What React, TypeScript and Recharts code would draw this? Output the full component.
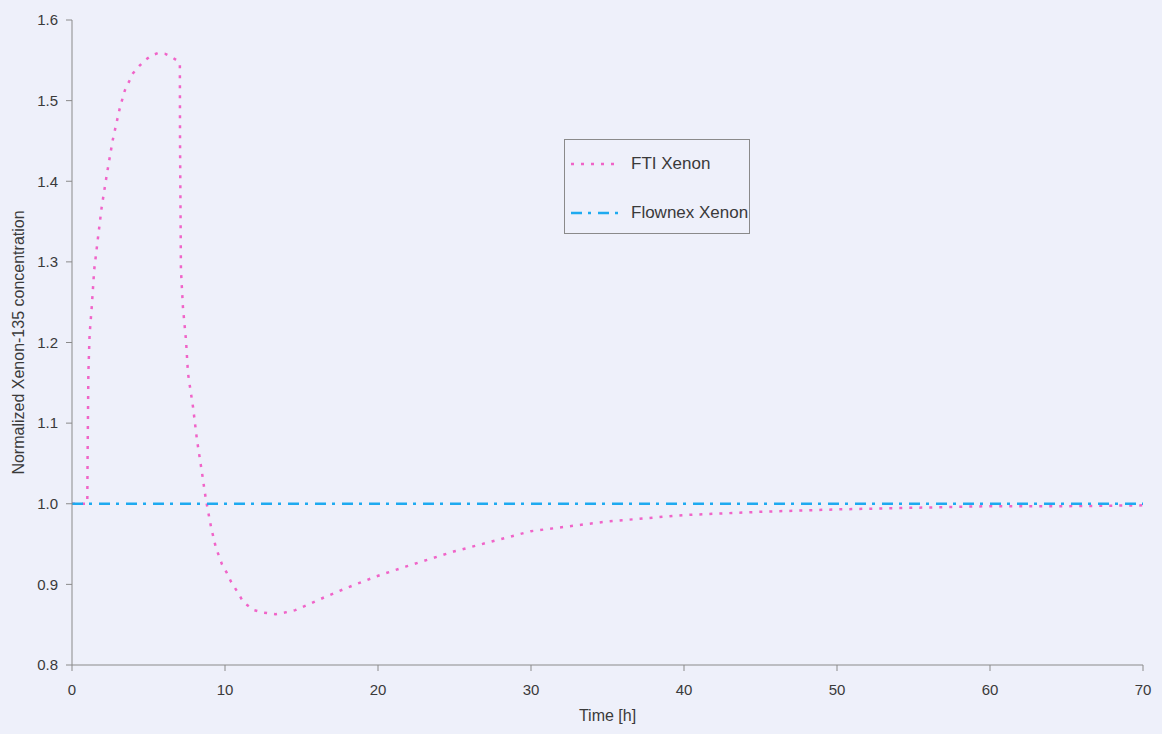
import { LineChart, Line, XAxis, YAxis, Legend } from 'recharts';

// FTI xenon transient (time in hours, concentration normalised to steady state)
const ftiTime = [
  0, 1.0, 1.02, 1.07, 1.15, 1.29, 1.45, 1.68, 1.94, 2.29, 2.66, 3.14, 3.46, 3.99, 4.4, 4.77,
  5.2, 5.62, 6.1, 6.52, 6.85, 7.05, 7.06, 7.12, 7.25, 7.45, 7.58, 7.75, 7.91, 8.17, 8.5, 8.69,
  8.85, 9.1, 9.4, 9.8, 10.1, 10.4, 10.8, 11.2, 11.9, 12.5, 13.3, 13.9, 14.6, 15.2, 16.5, 18.0,
  19.9, 21.8, 25, 30, 35, 40, 45, 50, 55, 60, 65, 70,
];
const ftiXenon = [
  1.0, 1.0, 1.06, 1.162, 1.21, 1.244, 1.29, 1.327, 1.368, 1.41, 1.451, 1.492, 1.513, 1.534, 1.543, 1.55,
  1.556, 1.559, 1.558, 1.554, 1.55, 1.546, 1.45, 1.29, 1.244, 1.203, 1.162, 1.14, 1.12, 1.079, 1.038, 1.013,
  0.995, 0.97, 0.946, 0.925, 0.915, 0.903, 0.891, 0.878, 0.868, 0.865, 0.863, 0.865, 0.868, 0.873, 0.884, 0.896,
  0.91, 0.922, 0.941, 0.966, 0.978, 0.986, 0.99, 0.993, 0.995, 0.997, 0.997, 0.998,
];

// Flownex xenon stays at the steady-state value
const flownexTime = [0, 70];
const flownexXenon = [1.0, 1.0];

const xTicks = [0, 10, 20, 30, 40, 50, 60, 70];
const yTicks = [0.8, 0.9, 1.0, 1.1, 1.2, 1.3, 1.4, 1.5, 1.6];

const ftiData = ftiTime.map((t, i) => ({ t, v: ftiXenon[i] }));
const flownexData = flownexTime.map((t, i) => ({ t, v: flownexXenon[i] }));

const BG = '#eef0fa';
const AXIS = '#8a8a8a';
const TEXT = '#3a3a3a';
const PINK = '#f064c8';
const CYAN = '#1eaaf0';
const FONT = '"Liberation Sans", Arial, sans-serif';

const legendItems = [
  { name: 'FTI Xenon', color: PINK, dash: '3 7' },
  { name: 'Flownex Xenon', color: CYAN, dash: '11 6 3 7' },
];

function LegendBox() {
  return (
    <div
      style={{
        width: 186,
        height: 95,
        border: `1px solid ${AXIS}`,
        background: BG,
        fontFamily: FONT,
        fontSize: 17,
        color: TEXT,
        boxSizing: 'border-box',
        paddingTop: 11,
      }}
    >
      {legendItems.map((item) => (
        <div key={item.name} style={{ display: 'flex', alignItems: 'center', height: 25, marginBottom: 24 }}>
          <svg width={56} height={6} style={{ marginLeft: 6, marginRight: 4 }}>
            <line x1={0} y1={3} x2={50} y2={3} stroke={item.color} strokeWidth={2.5} strokeDasharray={item.dash} />
          </svg>
          <span>{item.name}</span>
        </div>
      ))}
    </div>
  );
}

function YTitle(props: any) {
  const vb = props.viewBox;
  const x = vb.x + 18;
  const y = vb.y + vb.height / 2;
  return (
    <text
      x={x}
      y={y}
      transform={`rotate(-90 ${x} ${y})`}
      textAnchor="middle"
      dominantBaseline="central"
      fill={TEXT}
      fontSize={16}
      fontFamily={FONT}
    >
      Normalized Xenon-135 concentration
    </text>
  );
}

export default function App() {
  return (
    <div style={{ position: 'absolute', left: 0, top: 0, width: 1162, height: 734, background: BG }}>
      <LineChart width={1162} height={734} margin={{ top: 20, right: 19, left: 0, bottom: 5 }}>
        <XAxis
          dataKey="t"
          type="number"
          domain={[0, 70]}
          ticks={xTicks}
          allowDuplicatedCategory={false}
          height={64}
          stroke={AXIS}
          tickSize={6}
          tickMargin={13}
          tick={{ fill: TEXT, fontSize: 15, fontFamily: FONT }}
          label={{ value: 'Time [h]', position: 'insideBottom', offset: 8, fill: TEXT, fontSize: 16, fontFamily: FONT }}
        />
        <YAxis
          type="number"
          domain={[0.8, 1.6]}
          ticks={yTicks}
          width={72}
          stroke={AXIS}
          tickSize={6}
          tickMargin={8}
          tickFormatter={(v: number) => v.toFixed(1)}
          tick={{ fill: TEXT, fontSize: 15, fontFamily: FONT }}
          label={<YTitle />}
        />
        <Legend
          layout="vertical"
          align="center"
          verticalAlign="middle"
          content={() => <LegendBox />}
          wrapperStyle={{ left: 564, top: 139, width: 186 }}
        />
        <Line
          data={ftiData}
          dataKey="v"
          name="FTI Xenon"
          type="linear"
          stroke={PINK}
          strokeWidth={2.5}
          strokeDasharray="3 7"
          dot={false}
          activeDot={false}
          isAnimationActive={false}
        />
        <Line
          data={flownexData}
          dataKey="v"
          name="Flownex Xenon"
          type="linear"
          stroke={CYAN}
          strokeWidth={2.5}
          strokeDasharray="11 6 3 7"
          dot={false}
          activeDot={false}
          isAnimationActive={false}
        />
      </LineChart>
    </div>
  );
}
